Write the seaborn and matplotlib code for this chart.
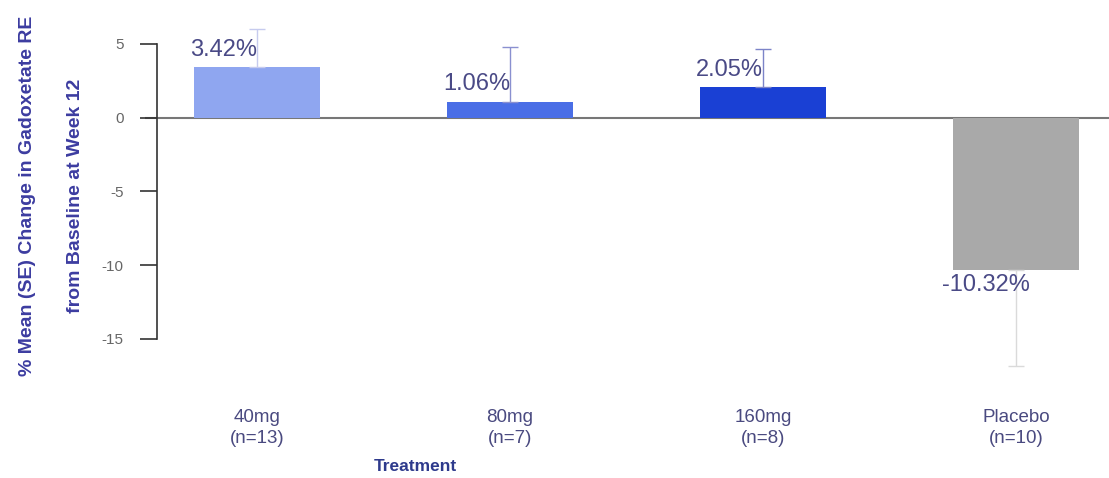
import matplotlib
matplotlib.use("Agg")
import matplotlib.pyplot as plt
import seaborn as sns
import pandas as pd

categories = ["40mg\n(n=13)", "80mg\n(n=7)", "160mg\n(n=8)", "Placebo\n(n=10)"]
means = [3.42, 1.06, 2.05, -10.32]
ses = [2.6, 3.7, 2.6, 6.5]
value_labels = ["3.42%", "1.06%", "2.05%", "-10.32%"]
bar_colors = ["#8fa6f0", "#4a6ee6", "#1a40d4", "#a9a9a9"]
err_colors = ["#c6cbee", "#8a90d0", "#7c84c8", "#dadada"]
yticks = [5, 0, -5, -10, -15]

sns.set_theme(style="white")
plt.rcParams["font.family"] = ["Liberation Sans", "DejaVu Sans"]

df = pd.DataFrame({"cat": categories, "val": means})

fig = plt.figure(figsize=(11.09, 4.78), dpi=100)
W, H = 1109, 478
left_px, right_px, top_px, bot_px = 145, 1109, 0, 392
ax = fig.add_axes([left_px / W, 1 - bot_px / H, (right_px - left_px) / W, (bot_px - top_px) / H])

sns.barplot(data=df, x="cat", y="val", hue="cat", palette=bar_colors,
            width=0.5, legend=False, ax=ax, saturation=1, errorbar=None,
            linewidth=0)

for i, (m, s) in enumerate(zip(means, ses)):
    lower = [0] if m >= 0 else [s]
    upper = [s] if m >= 0 else [0]
    ax.errorbar(i, m, yerr=[lower, upper], fmt="none", ecolor=err_colors[i],
                elinewidth=1.0, capsize=6, capthick=1.0, zorder=1)
    if m >= 0:
        ax.text(i + 0.0, m + 0.45, value_labels[i], ha="right", va="bottom",
                fontsize=17, color="#4a4a86")
    else:
        ax.text(i + 0.055, m - 0.3, value_labels[i], ha="right", va="top",
                fontsize=17, color="#4a4a86")

ax.axhline(0, color="#777777", lw=1.5, zorder=0)

ax.set_xlim(-0.443, 3.368)
ax.set_ylim(-18.6, 7.98)
for sp in ["top", "right", "bottom"]:
    ax.spines[sp].set_visible(False)
ax.spines["left"].set_position(("data", -0.395))
ax.spines["left"].set_bounds(-15, 5)
ax.spines["left"].set_color("#333333")
ax.spines["left"].set_linewidth(1.2)
ax.set_yticks(yticks)
ax.set_yticklabels([str(t) for t in yticks])
ax.tick_params(axis="y", left=True, length=12, width=1.2, color="#333333",
               labelsize=11, labelcolor="#666666", pad=12)
ax.tick_params(axis="x", bottom=False, labelsize=13.5, labelcolor="#4a4a80", pad=6)
for lbl in ax.get_xticklabels():
    lbl.set_linespacing(1.35)

ax.set_xlabel("Treatment", fontsize=12.5, fontweight="bold", color="#2e3a8c")
ax.xaxis.set_label_coords(0.28, -0.17)
ax.set_ylabel("")
fig.text(28 / W, 1 - 196 / H, "% Mean (SE) Change in Gadoxetate RE",
         rotation=90, ha="center", va="center", fontsize=14, fontweight="bold",
         color="#3c3ca0", fontstretch="condensed")
fig.text(76 / W, 1 - 196 / H, "from Baseline at Week 12",
         rotation=90, ha="center", va="center", fontsize=14, fontweight="bold",
         color="#3c3ca0", fontstretch="condensed")

fig.savefig("out.png", dpi=100)
